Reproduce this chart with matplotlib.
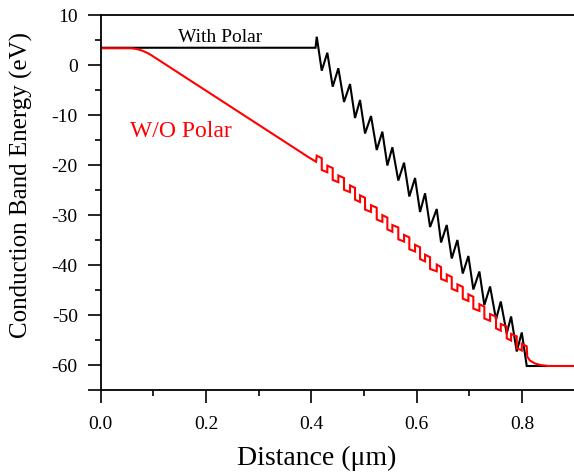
import matplotlib
matplotlib.use("Agg")
import matplotlib.pyplot as plt
from matplotlib.ticker import FixedLocator, FuncFormatter, MultipleLocator

plt.rcParams['font.family'] = ['Liberation Serif', 'DejaVu Serif']

# ---------------- data ----------------
# With Polar (black): flat part, sawtooth peaks / troughs, final drop
black_flat_x = [0.0, 0.408]
black_flat_y = [3.45, 3.45]
peak_x = [0.4103, 0.4304, 0.4513, 0.4735, 0.4925, 0.5134, 0.5349, 0.5539, 0.5761, 0.5970,
          0.6160, 0.6382, 0.6572, 0.6774, 0.6983, 0.7192, 0.7395, 0.7598, 0.7794, 0.7997]
peak_y = [5.66, 2.46, -0.66, -3.8, -7.0, -10.2, -13.34, -16.46, -19.54, -22.6,
          -25.66, -28.8, -32.0, -35.0, -38.2, -41.3, -44.3, -47.3, -50.3, -53.5]
trough_x = [0.4198, 0.4406, 0.4621, 0.4830, 0.5020, 0.5242, 0.5444, 0.5652, 0.5861, 0.6065,
            0.6255, 0.6464, 0.6667, 0.6876, 0.7077, 0.7286, 0.7508, 0.7711, 0.7901]
trough_y = [-1.14, -4.34, -7.4, -10.6, -13.7, -17.0, -20.1, -23.1, -26.3, -29.4,
            -32.4, -35.5, -38.7, -41.7, -44.9, -48.0, -50.9, -53.7, -57.3]
black_end_x = [0.8091, 0.847]
black_end_y = [-60.2, -60.2]

# W/O Polar (red): flat + bend + linear ramp, square-wave region, tail
red_ramp_x = [0.0, 0.055, 0.06, 0.07, 0.08, 0.09, 0.0964, 0.198, 0.398, 0.409]
red_ramp_y = [3.35, 3.35, 3.33, 3.16, 2.83, 2.34, 1.94, -5.0, -18.66, -19.34]
red_high_start = [-18.14, -20.12, -22.10, -24.08, -26.06, -28.04, -30.02, -32.00, -33.98, -35.96,
                  -37.94, -39.92, -41.90, -43.88, -45.86, -47.84, -49.82, -51.80, -53.78, -55.76]
red_high_end = [-18.64, -20.62, -22.60, -24.58, -26.56, -28.54, -30.52, -32.50, -34.48, -36.46,
                -38.44, -40.42, -42.40, -44.38, -46.36, -48.34, -50.32, -52.30, -54.28, -56.26]
red_low_start = [-21.00, -22.98, -24.96, -26.94, -28.92, -30.90, -32.88, -34.86, -36.84, -38.82,
                 -40.80, -42.78, -44.76, -46.74, -48.72, -50.70, -52.68, -54.66, -56.64]
red_low_end = [-21.46, -23.44, -25.42, -27.40, -29.38, -31.36, -33.34, -35.32, -37.30, -39.28,
               -41.26, -43.24, -45.22, -47.20, -49.18, -51.16, -53.14, -55.12, -57.10]
red_tail_x = [0.8091, 0.8100, 0.815, 0.825, 0.835, 0.85, 0.90]
red_tail_y = [-56.26, -58.3, -59.1, -59.7, -60.0, -60.2, -60.2]

x_major = [0.0, 0.2, 0.4, 0.6, 0.8]
y_major = [-65, -60, -50, -40, -30, -20, -10, 0, 10]

# ---------------- build paths ----------------
bx = list(black_flat_x)
by = list(black_flat_y)
for i in range(len(peak_x)):
    bx.append(peak_x[i]); by.append(peak_y[i])
    if i < len(trough_x):
        bx.append(trough_x[i]); by.append(trough_y[i])
bx += black_end_x
by += black_end_y

rx = list(red_ramp_x)
ry = list(red_ramp_y)
for i in range(len(red_high_start)):
    x0 = peak_x[i]
    x1 = trough_x[i] if i < len(trough_x) else black_end_x[0]
    rx += [x0, x1]
    ry += [red_high_start[i], red_high_end[i]]
    if i < len(red_low_start):
        rx += [x1, peak_x[i + 1]]
        ry += [red_low_start[i], red_low_end[i]]
rx += red_tail_x
ry += red_tail_y

# ---------------- plot ----------------
fig = plt.figure(figsize=(5.74, 4.74), dpi=100)
ax = fig.add_axes([100.7 / 574, (474 - 390) / 474, (574.6 - 100.7) / 574, (390 - 15) / 474])

ax.plot(bx, by, color='black', lw=1.5, solid_joinstyle='miter')
ax.plot(rx, ry, color='#ff0000', lw=1.5, solid_joinstyle='miter')

ax.set_xlim(0, 0.9)
ax.set_ylim(-65, 10)

ax.xaxis.set_major_locator(FixedLocator(x_major))
ax.xaxis.set_minor_locator(MultipleLocator(0.1))
ax.xaxis.set_major_formatter(FuncFormatter(lambda v, p: f"{v:.1f}"))
ax.yaxis.set_major_locator(FixedLocator(y_major))
ax.yaxis.set_minor_locator(MultipleLocator(5))
ax.yaxis.set_major_formatter(FuncFormatter(lambda v, p: "" if v < -62 else f"{v:.0f}"))

ax.tick_params(which='major', direction='out', length=9.5, width=1.2, labelsize=14, pad=7)
ax.tick_params(which='minor', direction='out', length=4, width=1.2)
ax.tick_params(axis='x', which='major', pad=9)
ax.tick_params(top=False, right=False, which='both')

for s in ['left', 'bottom', 'top']:
    ax.spines[s].set_linewidth(1.3)
ax.spines['right'].set_visible(False)

ax.set_xlabel("Distance (\u03bcm)", fontsize=20)
ax.set_ylabel("Conduction Band Energy (eV)", fontsize=18)
ax.xaxis.set_label_coords((317 - 100.7) / 473.9, -(458 - 390) / 375, transform=ax.transAxes)
ax.yaxis.set_label_coords(-(100.7 - 21) / 473.9, (390 - 185) / 375, transform=ax.transAxes)
ax.xaxis.label.set_va('center')
ax.yaxis.label.set_va('center')

ax.text(0.2266, 4.6, "With Polar", fontsize=14, ha='center', va='baseline', color='black')
ax.text(0.153, -14.4, "W/O Polar", fontsize=17, ha='center', va='baseline', color='#ff0000')

fig.savefig("out.png", dpi=100)
